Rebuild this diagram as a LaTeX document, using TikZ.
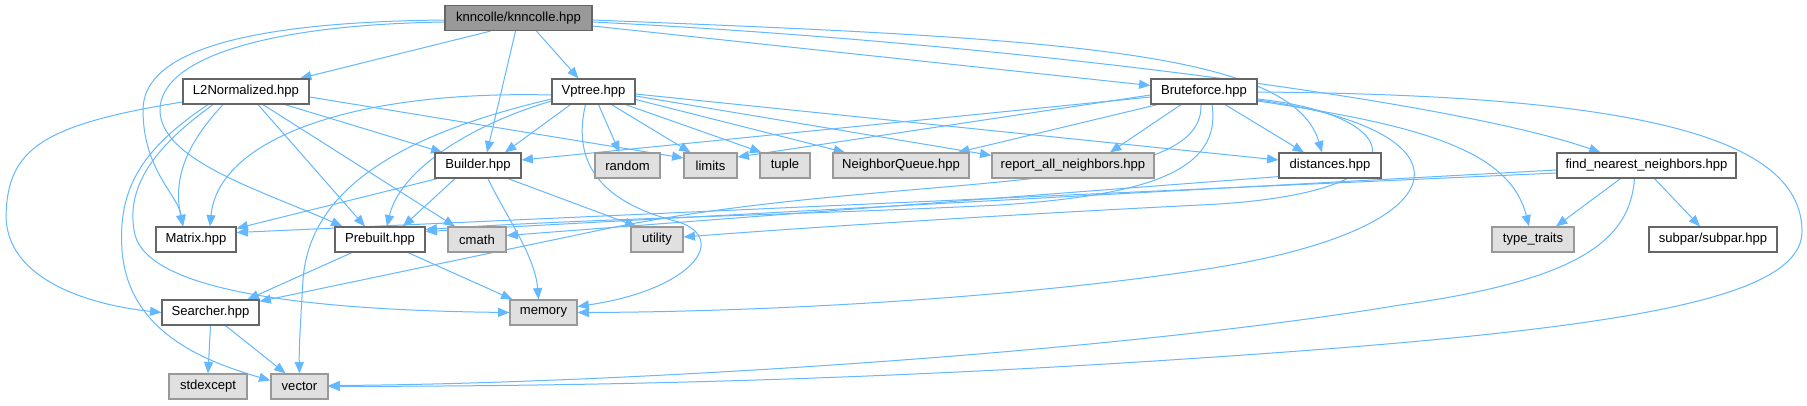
\documentclass[tikz,border=0pt]{standalone}
\usepackage{fontspec}
\setmainfont{Liberation Sans}
\usetikzlibrary{arrows.meta,calc}
\definecolor{edgec}{HTML}{63B8FF}
\definecolor{rootfill}{HTML}{999999}
\definecolor{rootdraw}{HTML}{666666}
\definecolor{sysfill}{HTML}{E0E0E0}
\definecolor{sysdraw}{HTML}{999999}
\definecolor{wdraw}{HTML}{666666}
\pgfdeclarelayer{bg}
\pgfsetlayers{bg,main}
\begin{document}
\begin{tikzpicture}[x=0.75pt,y=-0.75pt,
  nb/.style={rectangle, inner sep=0pt, minimum height=18.75pt, font=\fontsize{9.8}{12}\selectfont, text=black, line width=0.9pt},
  wb/.style={nb, draw=wdraw, fill=white, minimum width=#1*0.75pt},
  sb/.style={nb, draw=sysdraw, fill=sysfill, minimum width=#1*0.75pt},
  rb/.style={nb, draw=rootdraw, fill=rootfill, minimum width=#1*0.75pt},
  ed/.style={draw=edgec, line width=0.75pt, -{Triangle[length=8.5pt,width=6.8pt]}}]
\useasboundingbox (0,0) rectangle (1807,405);
% row 1
\node[rb=147] (K) at (518.5,18) {knncolle/knncolle.hpp};
% row 2
\node[wb=126] (L2N) at (246,91.5) {L2Normalized.hpp};
\node[wb=83] (V) at (593.5,91.5) {Vptree.hpp};
\node[wb=106] (Bf) at (1204,91.5) {Bruteforce.hpp};
% row 3
\node[wb=86] (Bu) at (478,165.5) {Builder.hpp};
\node[sb=65] (rnd) at (627.5,165.5) {random};
\node[sb=53] (lim) at (710.5,165.5) {limits};
\node[sb=50] (tup) at (785,165.5) {tuple};
\node[sb=136] (NQ) at (901,165.5) {NeighborQueue.hpp};
\node[sb=162] (rep) at (1073,165.5) {report\_all\_neighbors.hpp};
\node[wb=102] (dist) at (1330,165.5) {distances.hpp};
\node[wb=179] (FNN) at (1646.5,165.5) {find\_nearest\_neighbors.hpp};
% row 4
\node[wb=80] (Mx) at (196,239.5) {Matrix.hpp};
\node[wb=90] (Pb) at (380,239.5) {Prebuilt.hpp};
\node[sb=58] (cm) at (477,239.5) {cmath};
\node[sb=52] (ut) at (657,239.5) {utility};
\node[sb=82] (tt) at (1533,239.5) {type\_traits};
\node[wb=128] (sp) at (1713,239.5) {subpar/subpar.hpp};
% row 5
\node[wb=97] (Se) at (210.5,312.5) {Searcher.hpp};
\node[sb=67] (mem) at (543.5,312.5) {memory};
% row 6
\node[sb=78] (se) at (208,386.5) {stdexcept};
\node[sb=57] (vec) at (299.5,386.5) {vector};

\begin{pgfonlayer}{bg}
\fill[white] (0,0) rectangle (1807,405);
% knncolle
\draw[ed] ($(K.south)+(-28,0)$) -- ($(L2N.north)+(54,0)$);
\draw[ed] ($(K.south)+(18,0)$) -- ($(V.north)+(-15,0)$);
\draw[ed] ($(K.south)+(-3,0)$) -- ($(Bu.north)+(9,0)$);
\draw[ed] ($(K.east)+(0,8)$) -- ($(Bf.west)+(0,-6)$);
\draw[ed] ($(K.east)+(0,2)$) .. controls (1050,38) and (1292,50) .. ($(dist.north)+(-8,0)$);
\draw[ed] ($(K.east)+(0,4)$) .. controls (1000,42) and (1450,100) .. ($(FNN.north)+(-46,0)$);
\draw[ed] ($(K.west)+(0,2)$) .. controls (250,22) and (143,50) .. (143,110) .. controls (143,170) and (178,195) .. ($(Mx.north)+(-13,0)$);
\draw[ed] ($(K.west)+(0,4)$) .. controls (260,25) and (160,60) .. (160,110) .. controls (160,160) and (260,190) .. ($(Pb.north west)+(8,0)$);
% L2Normalized
\draw[ed] ($(L2N.west)+(0,10.5)$) .. controls (40,125) and (8,150) .. (6,215) .. controls (6,280) and (90,305) .. (Se.west);
\draw[ed] ($(L2N.south)+(-23,0)$) .. controls (190,140) and (172,175) .. ($(Mx.north)+(-13,0)$);
\draw[ed] ($(L2N.south)+(12,0)$) -- ($(Pb.north)+(-15,0)$);
\draw[ed] ($(L2N.south)+(17,0)$) -- ($(cm.north)+(-22,0)$);
\draw[ed] ($(L2N.south)+(39,0)$) -- ($(Bu.north west)+(8,0)$);
\draw[ed] ($(L2N.east)+(0,5.5)$) -- ($(lim.west)+(0,-7.5)$);
\draw[ed] ($(L2N.south)+(-33,0)$) .. controls (150,150) and (125,190) .. (135,235) .. controls (150,290) and (300,310) .. (mem.west);
\draw[ed] ($(L2N.south)+(-38,0)$) .. controls (140,150) and (118,190) .. (122,250) .. controls (128,330) and (200,360) .. ($(vec.west)+(0,-6)$);
% Vptree
\draw[ed] ($(V.south)+(-23,0)$) -- ($(Bu.north)+(27,0)$);
\draw[ed] ($(V.south)+(5,0)$) -- ($(rnd.north)+(-8,0)$);
\draw[ed] ($(V.south)+(18,0)$) -- ($(lim.north)+(-20,0)$);
\draw[ed] ($(V.south east)+(-10,0)$) -- ($(tup.north west)+(2,0)$);
\draw[ed] ($(V.east)+(0,8)$) -- ($(NQ.north)+(-56,0)$);
\draw[ed] ($(V.east)+(0,4.5)$) -- ($(rep.north west)+(0,3)$);
\draw[ed] ($(V.east)+(0,2.5)$) -- ($(dist.west)+(0,-5.5)$);
\draw[ed] ($(V.south)+(-8,0)$) .. controls (570,170) and (610,205) .. (679,222) .. controls (730,240) and (690,290) .. ($(mem.east)+(0,-6)$);
\draw[ed] ($(V.west)+(0,7.5)$) .. controls (420,130) and (310,180) .. (303,280) .. controls (300,330) and (299,350) .. (vec.north);
\draw[ed] ($(V.west)+(0,3.5)$) .. controls (350,90) and (218,140) .. ($(Mx.north)+(14,0)$);
\draw[ed] ($(V.west)+(0,9.5)$) .. controls (470,125) and (400,170) .. ($(Pb.north)+(7,0)$);
% Bruteforce
\draw[ed] ($(Bf.west)+(0,5.5)$) -- ($(Bu.east)+(0,-5.5)$);
\draw[ed] ($(Bf.west)+(0,3.5)$) -- ($(lim.east)+(0,-8.5)$);
\draw[ed] ($(Bf.south west)+(7,0)$) -- ($(NQ.north)+(57,0)$);
\draw[ed] ($(Bf.south)+(-23,0)$) -- ($(rep.north)+(37,0)$);
\draw[ed] ($(Bf.south)+(21,0)$) -- ($(dist.north)+(-26,0)$);
\draw[ed] ($(Bf.south)+(-3,0)$) .. controls (1205,200) and (900,170) .. (610,228) -- ($(Se.north east)+(0,2)$);
\draw[ed] ($(Bf.south)+(8,0)$) .. controls (1222,170) and (1150,195) .. (1000,205) .. controls (800,215) and (600,218) .. ($(Pb.east)+(0,-10)$);
\draw[ed] ($(Bf.east)+(0,7.5)$) .. controls (1410,115) and (1430,195) .. (1200,205) .. controls (1000,215) and (800,228) .. ($(ut.east)+(0,-2.5)$);
\draw[ed] ($(Bf.east)+(0,8.5)$) .. controls (1480,130) and (1470,230) .. (1200,270) .. controls (1000,300) and (750,312) .. (mem.east);
\draw[ed] ($(Bf.east)+(0,9.5)$) .. controls (1420,125) and (1510,150) .. ($(tt.north)+(-4,0)$);
\draw[ed] ($(Bf.east)+(0,0.5)$) .. controls (1650,95) and (1800,140) .. (1802,230) .. controls (1804,300) and (1620,330) .. (1200,358) .. controls (800,385) and (500,386) .. (vec.east);
% find_nearest_neighbors
\draw[ed] ($(FNN.south)+(-26,0)$) -- ($(tt.north)+(23,0)$);
\draw[ed] ($(FNN.south)+(8,0)$) -- ($(sp.north)+(-13,0)$);
\draw[ed] ($(FNN.south)+(-12,0)$) .. controls (1630,240) and (1580,280) .. (1400,305) .. controls (1100,355) and (600,384) .. ($(vec.east)+(0,-1)$);
\draw[ed] ($(FNN.west)+(0,4.5)$) -- ($(Pb.east)+(0,-8)$);
\draw[ed] ($(FNN.west)+(0,7.5)$) -- ($(Mx.east)+(0,-7)$);
% distances
\draw[ed] ($(dist.south west)+(0,-2)$) -- ($(cm.east)+(0,-4)$);
% Builder
\draw[ed] ($(Bu.south west)+(3,0)$) -- ($(Mx.north east)+(0,2)$);
\draw[ed] ($(Bu.south)+(-23,0)$) -- ($(Pb.north)+(23,0)$);
\draw[ed] ($(Bu.south)+(10,0)$) .. controls (505,215) and (535,255) .. ($(mem.north)+(-5,0)$);
\draw[ed] ($(Bu.south)+(30,0)$) -- ($(ut.north west)+(6,0)$);
% Prebuilt
\draw[ed] ($(Pb.south)+(-28,0)$) -- ($(Se.north)+(37,0)$);
\draw[ed] ($(Pb.south)+(28,0)$) -- ($(mem.north west)+(3,0)$);
% Searcher
\draw[ed] (Se.south) -- (se.north);
\draw[ed] ($(Se.south)+(15,0)$) -- ($(vec.north)+(-14,0)$);
\end{pgfonlayer}
\end{tikzpicture}
\end{document}
